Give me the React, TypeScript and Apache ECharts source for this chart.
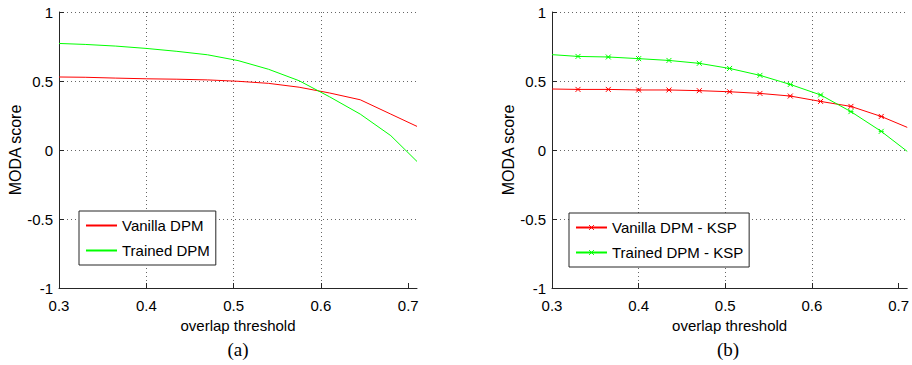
import React, { useEffect, useRef } from "react";
import * as echarts from "echarts";

const xVals = [0.3, 0.33, 0.365, 0.4, 0.435, 0.47, 0.505, 0.54, 0.575, 0.61, 0.645, 0.68, 0.71];
const vanillaDPM = [0.529, 0.527, 0.521, 0.516, 0.513, 0.508, 0.498, 0.483, 0.455, 0.413, 0.364, 0.26, 0.171];
const trainedDPM = [0.772, 0.765, 0.753, 0.736, 0.715, 0.69, 0.648, 0.585, 0.502, 0.385, 0.26, 0.104, -0.083];
const vanillaKSP = [0.442, 0.439, 0.439, 0.435, 0.435, 0.43, 0.422, 0.41, 0.391, 0.352, 0.316, 0.243, 0.164];
const trainedKSP = [0.691, 0.678, 0.674, 0.662, 0.649, 0.628, 0.591, 0.541, 0.475, 0.399, 0.278, 0.135, -0.01];
const xTicks = [0.3, 0.4, 0.5, 0.6, 0.7];
const seriesNamesA = ["Vanilla DPM", "Trained DPM"];
const seriesNamesB = ["Vanilla DPM - KSP", "Trained DPM - KSP"];
const xName = "overlap threshold";
const yName = "MODA score";
const captions = ["(a)", "(b)"];

const RED = "#ff0000";
const GREEN = "#00ff00";
const FONT = "'Liberation Sans', Arial, sans-serif";
const SERIF = "'Liberation Serif', 'DejaVu Serif', serif";
const AXIS = "#262626";
const STAR = "path://M0,0L10,10M10,0L0,10M0,5L10,5";

function pairs(ys: number[]) {
  return xVals.map((x, i) => [x, ys[i]]);
}
function markedPairs(ys: number[]) {
  return xVals.map((x, i) => ({
    value: [x, ys[i]],
    symbol: i === 0 || i === xVals.length - 1 ? "none" : STAR,
  }));
}

function xAxisCfg(gridIndex: number) {
  return {
    type: "value",
    gridIndex,
    min: 0.3,
    max: 0.71,
    interval: 0.1,
    name: xName,
    nameLocation: "middle",
    nameGap: 29,
    nameTextStyle: { fontFamily: FONT, fontSize: 15, color: "#000" },
    axisLine: { show: true, onZero: false, lineStyle: { color: AXIS, width: 1 } },
    axisTick: { show: true, inside: true, length: 5, customValues: xTicks, lineStyle: { color: AXIS } },
    axisLabel: {
      showMaxLabel: false,
      margin: 10,
      fontFamily: FONT,
      fontSize: 15,
      color: "#000",
      formatter: (v: number) => (Math.round(v * 10) / 10).toFixed(1),
    },
    splitLine: { show: true, showMaxLine: false, lineStyle: { color: "#666", type: [1, 3], width: 1 } },
  };
}
function yAxisCfg(gridIndex: number) {
  return {
    type: "value",
    gridIndex,
    min: -1,
    max: 1,
    interval: 0.5,
    name: yName,
    nameLocation: "middle",
    nameGap: 35,
    nameTextStyle: { fontFamily: FONT, fontSize: 16, color: "#000" },
    axisLine: { show: true, onZero: false, lineStyle: { color: AXIS, width: 1 } },
    axisTick: { show: true, inside: true, length: 5, lineStyle: { color: AXIS } },
    axisLabel: {
      margin: 6,
      fontFamily: FONT,
      fontSize: 15,
      color: "#000",
      formatter: (v: number) => String(v),
    },
    splitLine: { show: true, lineStyle: { color: "#666", type: [1, 3], width: 1 } },
  };
}

function legendCfg(names: string[], left: number, top: number, hideSymbol: boolean) {
  return {
    data: names,
    orient: "vertical",
    left,
    top,
    backgroundColor: "#fff",
    borderColor: AXIS,
    borderWidth: 1,
    borderRadius: 0,
    padding: [6, 6, 6, 6],
    itemWidth: 31,
    itemHeight: 6,
    itemGap: 8,
    itemStyle: hideSymbol ? { opacity: 0 } : { borderWidth: 1 },
    textStyle: { fontFamily: FONT, fontSize: 15, color: "#000", lineHeight: 17 },
  };
}

export default function App() {
  const ref = useRef<HTMLDivElement>(null);
  useEffect(() => {
    if (!ref.current) return;
    const chart = echarts.init(ref.current, undefined, { renderer: "svg" });
    const option: any = {
      animation: false,
      backgroundColor: "#fff",
      grid: [
        { left: 59, top: 12, width: 358, height: 276 },
        { left: 552, top: 12, width: 358, height: 276 },
      ],
      xAxis: [xAxisCfg(0), xAxisCfg(1)],
      yAxis: [yAxisCfg(0), yAxisCfg(1)],
      legend: [legendCfg(seriesNamesA, 79, 211, true), legendCfg(seriesNamesB, 569, 213, false)],
      series: [
        {
          name: seriesNamesA[0], type: "line", xAxisIndex: 0, yAxisIndex: 0,
          data: pairs(vanillaDPM), symbol: "none", lineStyle: { color: RED, width: 1 }, itemStyle: { color: RED },
        },
        {
          name: seriesNamesA[1], type: "line", xAxisIndex: 0, yAxisIndex: 0,
          data: pairs(trainedDPM), symbol: "none", lineStyle: { color: GREEN, width: 1 }, itemStyle: { color: GREEN },
        },
        {
          name: seriesNamesB[0], type: "line", xAxisIndex: 1, yAxisIndex: 1,
          data: markedPairs(vanillaKSP), symbol: STAR, symbolSize: 5, showAllSymbol: true,
          lineStyle: { color: RED, width: 1 },
          itemStyle: { color: "rgba(0,0,0,0)", borderColor: RED, borderWidth: 1 },
        },
        {
          name: seriesNamesB[1], type: "line", xAxisIndex: 1, yAxisIndex: 1,
          data: markedPairs(trainedKSP), symbol: STAR, symbolSize: 5, showAllSymbol: true,
          lineStyle: { color: GREEN, width: 1 },
          itemStyle: { color: "rgba(0,0,0,0)", borderColor: GREEN, borderWidth: 1 },
        },
      ],
      graphic: [
        {
          type: "text", x: 238, y: 349,
          style: { text: captions[0], fontFamily: SERIF, fontSize: 19, fill: "#000", align: "center", verticalAlign: "middle" },
        },
        {
          type: "text", x: 728, y: 349,
          style: { text: captions[1], fontFamily: SERIF, fontSize: 19, fill: "#000", align: "center", verticalAlign: "middle" },
        },
      ],
    };
    chart.setOption(option);
    return () => chart.dispose();
  }, []);
  return (
    <div
      ref={ref}
      style={{ position: "absolute", left: 0, top: 0, width: 912, height: 365 }}
    />
  );
}
